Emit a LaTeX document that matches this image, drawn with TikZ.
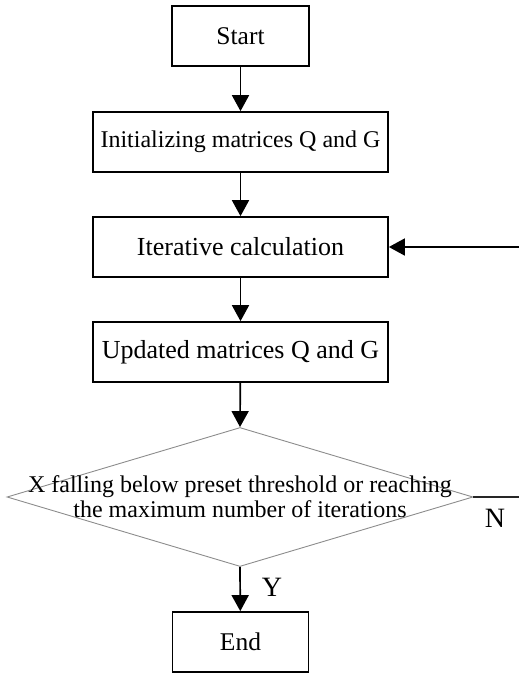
\documentclass[tikz,border=0pt]{standalone}
\usepackage{fontspec}
\setmainfont{Liberation Serif}
\usetikzlibrary{arrows.meta,shapes.geometric}
\tikzset{
  box/.style={draw=black, line width=1.7pt, rectangle, inner sep=0pt, minimum height=60pt, align=center},
  conn/.style={draw=black, line width=1.7pt, -{Triangle[width=17pt,length=16pt]}},
  plain/.style={draw=black!85, line width=1.4pt},
  lbl/.style={inner sep=0pt, font=\fontsize{28}{30}\selectfont},
}
\begin{document}
\begin{tikzpicture}[x=1pt,y=-1pt]
\useasboundingbox (0,0) rectangle (519,673);
\node[box, minimum width=137pt, font=\fontsize{25.5}{28}\selectfont] (start) at (240.5,36) {Start};
\node[box, minimum width=295pt, font=\fontsize{24}{28}\selectfont] (init) at (240.5,142) {Initializing matrices Q and G};
\node[box, minimum width=295pt, font=\fontsize{26}{28}\selectfont] (iter) at (240.5,247) {Iterative calculation};
\node[box, minimum width=295pt, font=\fontsize{26}{28}\selectfont] (upd) at (240.5,352) {Updated matrices Q and G};
\node[diamond, draw=black!45, line width=0.9pt, minimum width=466pt, minimum height=139pt, inner sep=0pt] (dia) at (240,497) {};
\node[align=center, inner sep=0pt, font=\fontsize{24}{25}\selectfont] (diatext) at (dia.center) {X falling below preset threshold or reaching\\the maximum number of iterations};
\node[box, minimum width=136pt, font=\fontsize{25.5}{28}\selectfont] (end) at (240.5,642) {End};
\coordinate (fb) at (519,247);
\coordinate (nout) at (519,497);
\draw[conn] (start) -- (init);
\draw[conn] (init) -- (iter);
\draw[conn] (iter) -- (upd);
\draw[conn] (upd) -- (dia.north);
\draw[conn] (dia.south) -- (end);
\draw[conn] (fb) -- (iter.east);
\draw[plain] (dia.east) -- (nout);
\node[lbl] (nlab) at (495,518) {N};
\node[lbl] (ylab) at (272,587) {Y};
\end{tikzpicture}
\end{document}
